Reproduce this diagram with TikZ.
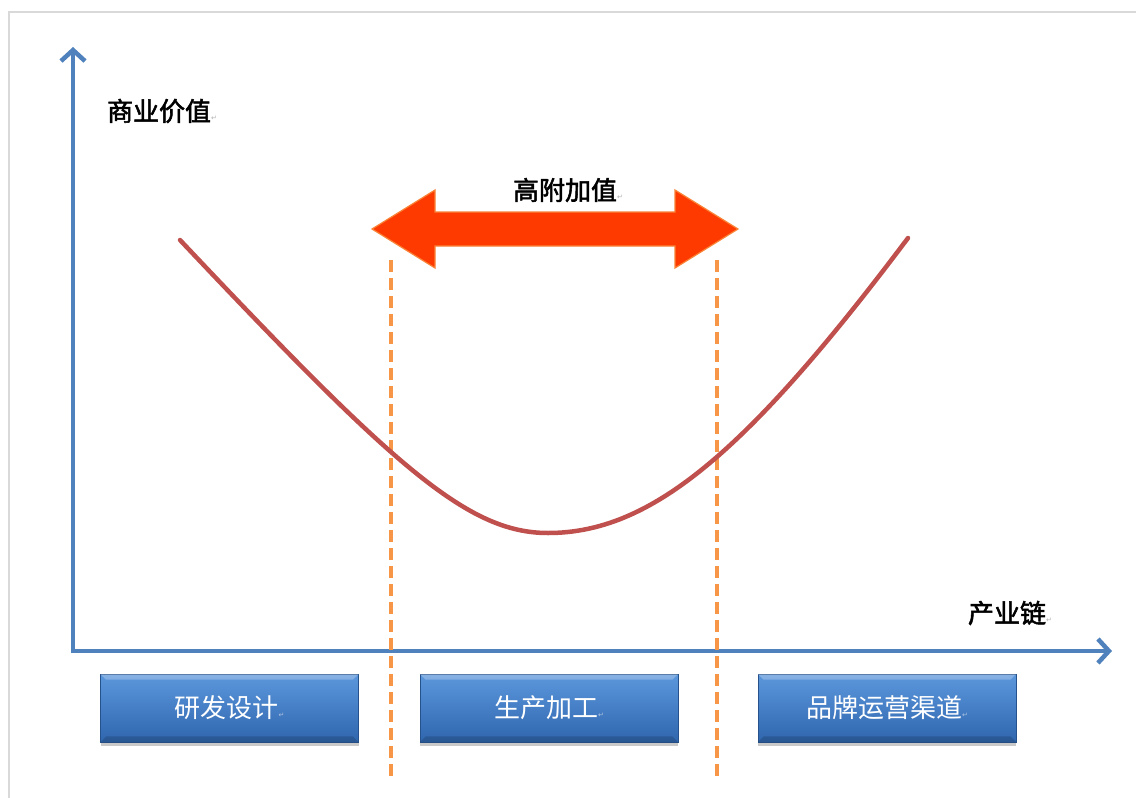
\documentclass[tikz,border=0pt]{standalone}
\usepackage{fontspec}
\newfontfamily\cjk{Noto Sans CJK SC}
\newfontfamily\cjkb[FakeBold=2]{Noto Sans CJK SC}
\newfontfamily\symf{DejaVu Sans}
\usetikzlibrary{arrows.meta,shadows,calc}
\definecolor{axisblue}{HTML}{4F81BD}
\definecolor{curvered}{HTML}{C0504D}
\definecolor{dashorange}{HTML}{F79646}
\definecolor{arrowred}{HTML}{FF3A00}
\definecolor{boxtop}{HTML}{5C97DC}
\definecolor{boxbot}{HTML}{2F66AE}
\definecolor{framegray}{HTML}{D9D9D9}
\newcommand{\pmark}[1][gray!60]{{\symf\fontsize{7}{7}\selectfont\textcolor{#1}{↵}}}
\tikzset{
  axis/.style={draw=axisblue, line width=4.5pt, -{Straight Barb[length=11pt,width=24pt]}},
  curve/.style={draw=curvered, line width=4.5pt},
  guide/.style={draw=dashorange, line width=4.5pt, dash pattern=on 12pt off 6pt},
  lbl/.style={font=\cjkb\fontsize{26}{26}\selectfont, text=black, inner sep=0pt},
  stagebox/.style={minimum width=258pt, minimum height=68pt, inner sep=0pt,
     top color=boxtop, bottom color=boxbot, draw=boxbot!80!black, line width=0.6pt,
     drop shadow={shadow xshift=0pt, shadow yshift=-4pt, opacity=0.35, fill=black!60},
     font=\cjk\fontsize{26}{26}\selectfont, text=white},
}
\begin{document}
\begin{tikzpicture}[x=1pt,y=-1pt]
\useasboundingbox (0,0) rectangle (1136,798);
\fill[white] (0,0) rectangle (1136,798);
% frame
\draw[framegray, line width=2pt] (9,798) -- (9,12) -- (1136,12);

% axes
\coordinate (O) at (73,651);
\coordinate (ytip) at (73,47);
\coordinate (xtip) at (1112,651);
\draw[axis] (73,653) -- (ytip);
\draw[axis] (71,651) -- (xtip);

% axis labels
\node[lbl] (ylab) at (162,111) {商业价值\pmark};
\node[lbl] (xlab) at (1010,613) {产业链\pmark};

% dashed guide lines
\coordinate (g1t) at (391,260); \coordinate (g1b) at (391,776);
\coordinate (g2t) at (717,260); \coordinate (g2b) at (717,776);
\draw[guide] (g1t) -- (g1b);
\draw[guide] (g2t) -- (g2b);

% smile curve
\coordinate (cL) at (180,240);
\coordinate (cM) at (548,533);
\coordinate (cR) at (908,238);
\draw[curve, line cap=round] (cL) .. controls (395,468) and (468,533) .. (cM)
   .. controls (650,533) and (745,455) .. (cR);

% double arrow
\filldraw[fill=arrowred, draw=dashorange!80!arrowred, line width=1.2pt, line join=miter]
  (372,229) -- (435,190) -- (435,212) -- (675,212) -- (675,190) -- (738,229)
  -- (675,268) -- (675,246) -- (435,246) -- (435,268) -- cycle;
\node[lbl] (hv) at (568,190) {高附加值\pmark};

% stage boxes
\node[stagebox] (s1) at (229.5,708) {研发设计\pmark[white!60!boxbot]};
\node[stagebox] (s2) at (549,708) {生产加工\pmark[white!60!boxbot]};
\node[stagebox] (s3) at (887,708) {品牌运营渠道\pmark[white!60!boxbot]};
\foreach \b in {s1,s2,s3}{
  \fill[white, opacity=0.25] (\b.north west) -- (\b.north east) -- ($(\b.north east)+(-6,6)$) -- ($(\b.north west)+(6,6)$) -- cycle;
  \fill[black, opacity=0.15] (\b.south west) -- (\b.south east) -- ($(\b.south east)+(-6,-6)$) -- ($(\b.south west)+(6,-6)$) -- cycle;
}
\end{tikzpicture}
\end{document}
